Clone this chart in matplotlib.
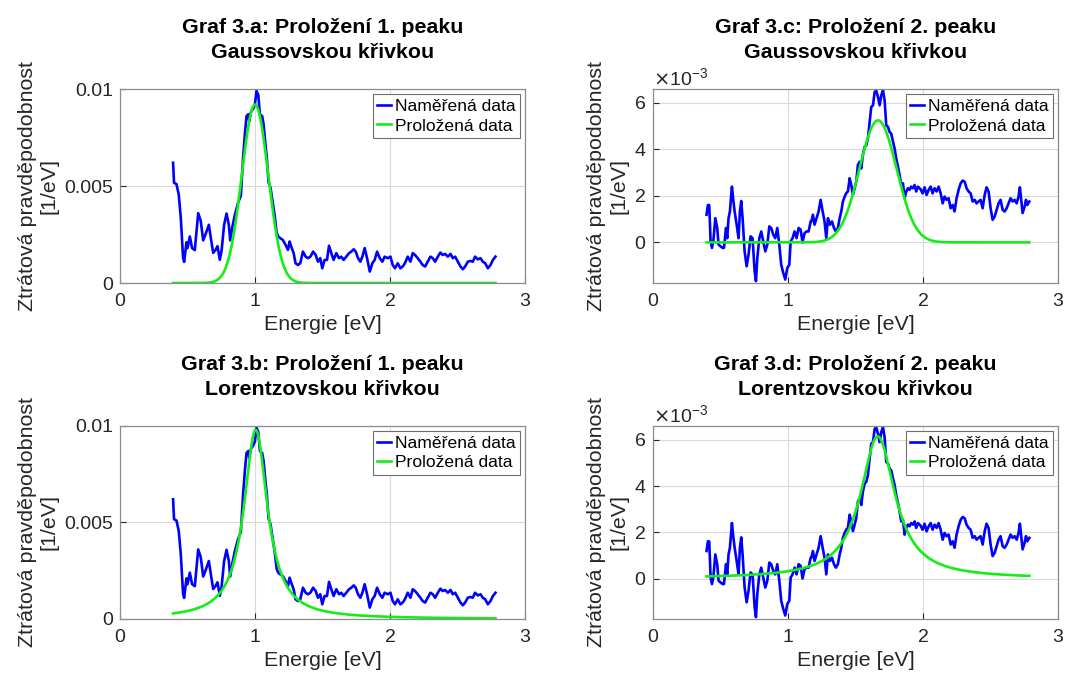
import matplotlib
matplotlib.use("Agg")
import matplotlib.pyplot as plt
import numpy as np
from matplotlib.ticker import FuncFormatter

plt.rcParams['font.family'] = ['Liberation Sans', 'DejaVu Sans']

# measured loss probability around the 1st peak (values in 1e-3 / eV)
peak1_energy = [0.393, 0.400, 0.418, 0.435, 0.450, 0.467, 0.475, 0.492, 0.500, 0.517,
                0.534, 0.554, 0.579, 0.598, 0.616, 0.633, 0.658, 0.673, 0.690, 0.707,
                0.722, 0.739, 0.752, 0.771, 0.789, 0.806, 0.816, 0.831, 0.850, 0.875,
                0.895, 0.912, 0.925, 0.937, 0.950, 0.957, 0.969, 0.987, 0.999, 1.011,
                1.024, 1.036, 1.053, 1.063, 1.075, 1.088, 1.100, 1.115, 1.130, 1.145,
                1.160, 1.172, 1.187, 1.206, 1.226, 1.244, 1.256, 1.268, 1.286, 1.300,
                1.318, 1.335, 1.355, 1.375, 1.392, 1.410, 1.430, 1.449, 1.466, 1.483,
                1.498, 1.515, 1.533, 1.548, 1.565, 1.582, 1.602, 1.622, 1.639, 1.656,
                1.676, 1.696, 1.713, 1.731, 1.746, 1.763, 1.780, 1.795, 1.812, 1.830,
                1.850, 1.869, 1.886, 1.904, 1.924, 1.943, 1.960, 1.983, 2.003, 2.020,
                2.037, 2.057, 2.077, 2.094, 2.110, 2.131, 2.151, 2.168, 2.185, 2.205,
                2.225, 2.242, 2.260, 2.279, 2.299, 2.317, 2.334, 2.354, 2.373, 2.390,
                2.408, 2.428, 2.448, 2.465, 2.482, 2.502, 2.522, 2.539, 2.556, 2.576,
                2.596, 2.613, 2.630, 2.650, 2.670, 2.687, 2.705, 2.725, 2.744, 2.762,
                2.781]
peak1_loss = [6.20, 5.17, 5.10, 4.56, 3.37, 1.30, 1.09, 2.10, 1.80, 2.40,
              1.80, 1.70, 3.60, 3.20, 2.20, 2.50, 3.00, 2.30, 1.55, 1.70,
              1.90, 1.20, 1.65, 3.00, 3.58, 3.00, 2.20, 2.85, 3.50, 4.15,
              4.50, 6.50, 7.70, 8.60, 8.70, 8.35, 8.80, 9.00, 9.20, 9.90,
              9.70, 8.70, 8.60, 8.20, 7.30, 6.40, 5.20, 4.90, 4.20, 3.50,
              2.60, 2.40, 2.31, 2.22, 1.97, 1.71, 2.14, 1.88, 1.54, 1.02,
              0.93, 1.02, 1.62, 1.36, 1.28, 1.36, 1.62, 1.45, 1.10, 1.28,
              0.76, 1.19, 1.19, 1.92, 1.54, 1.19, 1.54, 1.28, 1.36, 1.19,
              1.36, 1.54, 1.62, 1.74, 1.62, 1.28, 1.10, 1.36, 1.80, 1.28,
              0.59, 1.02, 1.19, 1.62, 1.28, 1.10, 1.36, 1.28, 1.36, 0.93,
              0.76, 1.02, 0.76, 0.85, 1.02, 1.36, 1.10, 1.54, 1.45, 1.28,
              1.10, 0.93, 0.85, 1.10, 1.36, 1.28, 1.10, 1.36, 1.57, 1.45,
              1.50, 1.36, 1.50, 1.28, 1.36, 1.10, 0.85, 0.71, 0.85, 1.10,
              1.14, 1.10, 1.36, 1.22, 1.28, 1.10, 1.02, 0.76, 0.93, 1.19,
              1.36]

# measured loss probability around the 2nd peak (values in 1e-3 / eV)
peak2_energy = [0.397, 0.407, 0.417, 0.427, 0.437, 0.447, 0.462, 0.476, 0.486, 0.501,
                0.516, 0.526, 0.541, 0.550, 0.560, 0.570, 0.585, 0.595, 0.605, 0.620,
                0.634, 0.644, 0.654, 0.664, 0.679, 0.694, 0.708, 0.723, 0.738, 0.753,
                0.763, 0.773, 0.788, 0.802, 0.817, 0.832, 0.847, 0.862, 0.876, 0.891,
                0.906, 0.921, 0.936, 0.950, 0.965, 0.980, 0.995, 1.010, 1.020, 1.034,
                1.049, 1.064, 1.079, 1.094, 1.108, 1.123, 1.138, 1.153, 1.168, 1.173,
                1.185, 1.197, 1.212, 1.227, 1.242, 1.257, 1.271, 1.284, 1.296, 1.311,
                1.326, 1.341, 1.355, 1.370, 1.383, 1.395, 1.407, 1.420, 1.432, 1.444,
                1.457, 1.469, 1.481, 1.494, 1.506, 1.518, 1.531, 1.543, 1.555, 1.568,
                1.580, 1.592, 1.605, 1.617, 1.630, 1.642, 1.654, 1.667, 1.679, 1.691,
                1.704, 1.716, 1.728, 1.741, 1.753, 1.765, 1.778, 1.790, 1.802, 1.815,
                1.827, 1.839, 1.852, 1.864, 1.876, 1.889, 1.901, 1.913, 1.926, 1.938,
                1.950, 1.963, 1.983, 1.997, 2.012, 2.027, 2.042, 2.057, 2.071, 2.086,
                2.101, 2.116, 2.131, 2.146, 2.160, 2.175, 2.190, 2.205, 2.220, 2.234,
                2.249, 2.264, 2.279, 2.294, 2.309, 2.323, 2.338, 2.353, 2.368, 2.383,
                2.397, 2.412, 2.427, 2.442, 2.457, 2.471, 2.486, 2.501, 2.516, 2.531,
                2.546, 2.560, 2.575, 2.590, 2.605, 2.620, 2.634, 2.649, 2.664, 2.679,
                2.694, 2.708, 2.718, 2.728, 2.738, 2.753, 2.763, 2.773, 2.788]
peak2_loss = [1.19, 1.61, 1.60, 0.04, -0.24, 0.04, 1.04, 0.62, -0.10, -0.17,
              -0.24, -0.24, 0.62, 0.18, 1.04, 1.33, 2.40, 1.83, 1.33, 0.76,
              0.18, 1.33, 1.78, 1.04, -0.39, -1.03, -0.53, 0.26, 0.18, -1.24,
              -1.67, -0.68, 0.18, 0.47, 0.04, -0.39, -0.10, 0.69, 0.62, 0.33,
              0.18, 0.62, -0.10, -0.96, -1.31, -1.60, -1.10, -0.96, 0.04, 0.18,
              0.47, 0.18, 0.62, 0.55, 0.00, 0.40, 0.47, 0.47, 0.90, 0.90,
              1.19, 0.76, 1.04, 1.33, 1.83, 1.33, 0.90, 0.18, 1.04, 0.76,
              0.90, 0.62, 0.47, 0.62, 1.04, 1.33, 1.76, 1.97, 2.12, 2.19,
              2.76, 2.47, 2.05, 2.33, 2.62, 3.33, 3.47, 3.18, 3.76, 4.11,
              4.18, 4.47, 5.18, 5.83, 5.90, 6.47, 6.54, 6.25, 5.90, 6.33,
              6.54, 6.11, 5.04, 4.97, 4.75, 4.68, 4.33, 4.04, 3.61, 3.26,
              2.90, 2.47, 2.54, 1.90, 2.19, 2.33, 2.26, 2.40, 2.33, 2.47,
              2.19, 2.40, 2.28, 2.11, 2.37, 2.04, 2.26, 2.40, 2.11, 2.33,
              2.19, 2.40, 2.11, 1.68, 1.97, 1.83, 1.90, 1.47, 1.61, 1.33,
              1.90, 2.26, 2.54, 2.66, 2.61, 2.33, 2.19, 2.11, 1.76, 1.83,
              1.68, 1.76, 1.83, 1.47, 2.04, 2.37, 2.19, 1.47, 0.97, 1.11,
              1.40, 1.68, 1.83, 1.40, 1.33, 1.47, 1.68, 1.90, 1.76, 1.83,
              1.68, 1.97, 2.37, 1.83, 1.26, 1.54, 1.83, 1.61, 1.76]

# fitted parameters (amplitude [1/eV], centre [eV], width [eV])
gauss1 = (0.0092, 1.000, 0.098)
lorentz1 = (0.0098, 1.005, 0.106)
gauss2 = (0.00525, 1.667, 0.137)
lorentz2 = (0.00615, 1.665, 0.155)


def gauss(x, a, mu, sigma):
    return a * np.exp(-(x - mu) ** 2 / (2 * sigma ** 2))


def lorentz(x, a, x0, gamma):
    return a * gamma ** 2 / ((x - x0) ** 2 + gamma ** 2)


e1 = np.array(peak1_energy)
l1 = np.array(peak1_loss) * 1e-3
e2 = np.array(peak2_energy)
l2 = np.array(peak2_loss) * 1e-3

efit1 = np.linspace(e1[0], e1[-1], 500)
efit2 = np.linspace(e2[0], e2[-1], 500)

blue = '#0000ff'
green = '#14ee14'
txt = '#262626'

fig = plt.figure(figsize=(10.65, 6.75), dpi=100)

axes_pos = {
    'a': [0.1127, 0.5807, 0.3803, 0.2874],
    'c': [0.6131, 0.5807, 0.3803, 0.2874],
    'b': [0.1127, 0.0830, 0.3803, 0.2860],
    'd': [0.6131, 0.0830, 0.3803, 0.2860],
}

panels = [
    ('a', 'Graf 3.a: Proložení 1. peaku\nGaussovskou křivkou', e1, l1, efit1, gauss(efit1, *gauss1), 1),
    ('c', 'Graf 3.c: Proložení 2. peaku\nGaussovskou křivkou', e2, l2, efit2, gauss(efit2, *gauss2), 2),
    ('b', 'Graf 3.b: Proložení 1. peaku\nLorentzovskou křivkou', e1, l1, efit1, lorentz(efit1, *lorentz1), 1),
    ('d', 'Graf 3.d: Proložení 2. peaku\nLorentzovskou křivkou', e2, l2, efit2, lorentz(efit2, *lorentz2), 2),
]

for key, title, x, y, xf, yf, peak in panels:
    ax = fig.add_axes(axes_pos[key])
    ax.plot(x, y, color=blue, lw=1.9, label='Naměřená data')
    ax.plot(xf, yf, color=green, lw=1.9, label='Proložená data')

    ax.set_xlim(0, 3)
    ax.set_xticks([0, 1, 2, 3])
    if peak == 1:
        ax.set_ylim(0, 0.01)
        ax.set_yticks([0, 0.005, 0.01])
        ax.yaxis.set_major_formatter(FuncFormatter(lambda v, p: '%g' % v))
    else:
        ax.set_ylim(-1.75e-3, 6.6e-3)
        ax.set_yticks([0, 2e-3, 4e-3, 6e-3])
        ax.ticklabel_format(axis='y', style='sci', scilimits=(-3, -3), useMathText=True)
        ax.yaxis.get_offset_text().set_fontsize(14)
        ax.yaxis.get_offset_text().set_color(txt)

    ax.grid(True, color='#d9d9d9', lw=0.8)
    ax.tick_params(direction='in', labelsize=14, colors=txt, length=4, width=0.8)
    ax.tick_params(axis='x', pad=7)
    ax.tick_params(axis='y', pad=5)
    for s in ax.spines.values():
        s.set_color('#8c8c8c')
        s.set_linewidth(0.9)

    ax.set_title(title, fontsize=15.4, fontweight='bold', color='black',
                 pad=22, linespacing=1.4)
    ax.set_xlabel('Energie [eV]', fontsize=15.4, color=txt, labelpad=4)
    ax.set_ylabel('Ztrátová pravděpodobnost\n[1/eV]', fontsize=15.4, color=txt, labelpad=4)

    leg = ax.legend(loc='upper right', fontsize=12.6, fancybox=False, framealpha=1,
                    edgecolor='#6e6e6e', handlelength=0.8, handletextpad=0.2,
                    labelspacing=0.25, borderpad=0.25, borderaxespad=0.3)
    leg.get_frame().set_linewidth(0.8)

fig.savefig('out.png', dpi=100)
